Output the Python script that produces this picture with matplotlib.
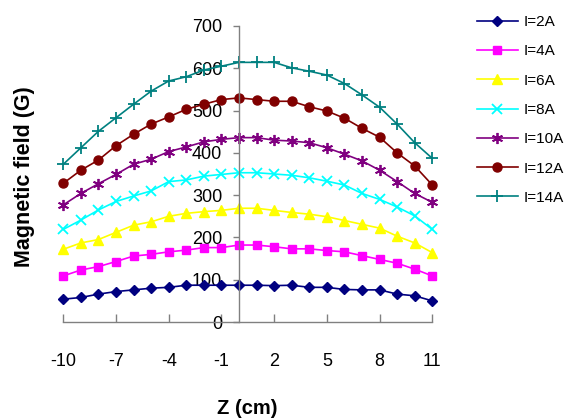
import numpy as np
import matplotlib
matplotlib.use('Agg')
import matplotlib.pyplot as plt

plt.rcParams['font.family'] = ['Liberation Sans', 'DejaVu Sans']
plt.rcParams['axes.unicode_minus'] = False

# axial position (cm) and field readings (G) for each coil current
z_cm = list(range(-10, 12))
field_2A = [54, 58, 66, 72, 76, 80, 82, 87, 87, 87, 87, 87, 86, 87, 82, 82, 77, 76, 76, 66, 62, 50]
field_4A = [109, 123, 131, 143, 156, 160, 166, 170, 176, 176, 182, 182, 178, 173, 173, 169, 166, 157, 148, 139, 125, 109]
field_6A = [172, 187, 195, 212, 229, 237, 250, 257, 261, 264, 269, 269, 264, 259, 255, 249, 240, 231, 222, 203, 187, 164]
field_8A = [219, 241, 265, 285, 298, 310, 332, 336, 345, 349, 353, 353, 350, 347, 341, 333, 324, 304, 290, 272, 251, 219]
field_10A = [277, 304, 327, 349, 373, 385, 403, 414, 426, 432, 436, 436, 430, 428, 424, 412, 397, 381, 359, 332, 304, 283]
field_12A = [328, 359, 383, 417, 444, 468, 485, 503, 515, 526, 530, 526, 522, 522, 509, 499, 482, 458, 437, 400, 369, 324]
field_14A = [373, 412, 451, 483, 515, 546, 570, 580, 596, 605, 614, 614, 614, 601, 593, 584, 564, 537, 508, 468, 424, 387]

labels = ['I=2A', 'I=4A', 'I=6A', 'I=8A', 'I=10A', 'I=12A', 'I=14A']
series = [field_2A, field_4A, field_6A, field_8A, field_10A, field_12A, field_14A]
colors = ['#000080', '#FF00FF', '#FFFF00', '#00FFFF', '#800080', '#800000', '#008080']
markers = ['D', 's', '^', 'x', (6, 2, 0), 'o', '+']
msizes = [5.5, 5.5, 7, 7, 8, 6.5, 8]

xticks = [-10, -7, -4, -1, 2, 5, 8, 11]
yticks = [0, 100, 200, 300, 400, 500, 600, 700]

fig = plt.figure(figsize=(5.77, 4.2), dpi=100)
ax = fig.add_axes([0.1097, 0.2333, 0.6395, 0.7048])

for vals, lab, c, m, ms in zip(series, labels, colors, markers, msizes):
    ax.plot(z_cm, vals, color=c, marker=m, markersize=ms, linewidth=1.2,
            markeredgewidth=1.3 if m in ('x', '+', (6, 2, 0)) else 1.0,
            markerfacecolor=c, markeredgecolor=c, label=lab, clip_on=False)

ax.set_xlim(-10, 11)
ax.set_ylim(0, 700)
ax.set_xticks(xticks)
ax.set_yticks(yticks)

ax.spines['top'].set_visible(False)
ax.spines['right'].set_visible(False)
ax.spines['left'].set_position(('data', 0))
for s in ('left', 'bottom'):
    ax.spines[s].set_color('#808080')
    ax.spines[s].set_linewidth(1.0)

ax.tick_params(axis='x', direction='in', length=5.5, width=1.0, color='#808080',
               pad=22.5, labelsize=13)
ax.tick_params(axis='y', direction='out', length=4, width=1.0, color='#808080',
               pad=8, labelsize=13)

fig.text(0.429, 0.005, 'Z (cm)', fontsize=14.5, fontweight='bold',
         ha='center', va='bottom')
fig.text(0.043, 0.579, 'Magnetic field (G)', rotation=90, fontsize=15.5,
         fontweight='bold', ha='center', va='center')

fig.legend(loc='upper left', bbox_to_anchor=(0.826, 0.964), frameon=False,
           fontsize=11, handlelength=2.73, handletextpad=0.33, labelspacing=1.0,
           borderpad=0, borderaxespad=0)

fig.savefig('out.png', dpi=100)
